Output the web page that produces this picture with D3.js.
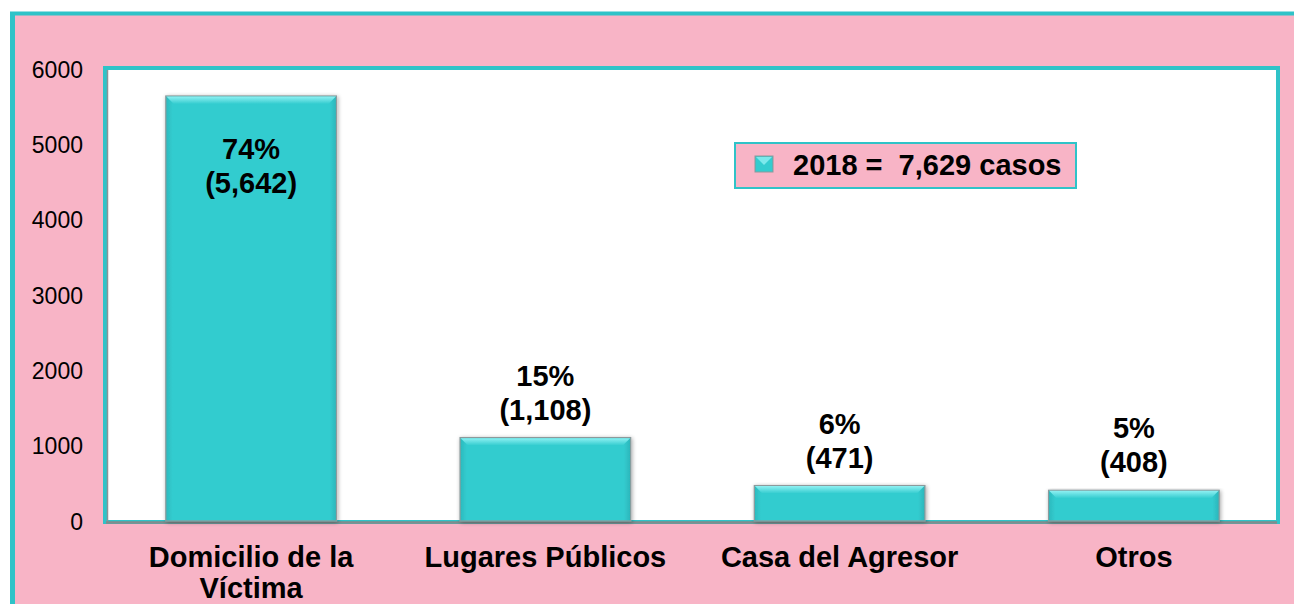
<!DOCTYPE html>
<html><head><meta charset="utf-8">
<script src="https://cdn.jsdelivr.net/npm/d3@7"></script>
<style>html,body{margin:0;padding:0;background:#fff;}svg{display:block;}</style>
</head><body>
<script>
const categories = [["Domicilio de la", "Víctima"], ["Lugares Públicos"], ["Casa del Agresor"], ["Otros"]];
const values = [5642, 1108, 471, 408];
const percents = ["74%", "15%", "6%", "5%"];
const valueLabels = ["(5,642)", "(1,108)", "(471)", "(408)"];
const yTicks = [0, 1000, 2000, 3000, 4000, 5000, 6000];
const legendLabel = "2018 =  7,629 casos";

const W = 1294, H = 604;
const pink = "#F8B4C6", teal = "#2FC3C8", barC = "#33CCCF";
const FF = "Liberation Sans, Arial, sans-serif";
const svg = d3.select("body").append("svg").attr("width", W).attr("height", H);

const defs = svg.append("defs");
const g1 = defs.append("linearGradient").attr("id","barg").attr("x1",0).attr("x2",1).attr("y1",0).attr("y2",0);
g1.append("stop").attr("offset","0").attr("stop-color","#2BB9BD");
g1.append("stop").attr("offset","0.04").attr("stop-color",barC);
g1.append("stop").attr("offset","0.96").attr("stop-color",barC);
g1.append("stop").attr("offset","1").attr("stop-color","#2BB5BA");
const g2 = defs.append("linearGradient").attr("id","topg").attr("x1",0).attr("x2",0).attr("y1",0).attr("y2",1);
g2.append("stop").attr("offset","0").attr("stop-color","#8EF0F2");
g2.append("stop").attr("offset","1").attr("stop-color",barC);
const f = defs.append("filter").attr("id","sh").attr("x","-10%").attr("y","-10%").attr("width","130%").attr("height","130%");
f.append("feGaussianBlur").attr("in","SourceAlpha").attr("stdDeviation",2);
f.append("feOffset").attr("dx",1).attr("dy",1).attr("result","b");
f.append("feComponentTransfer").append("feFuncA").attr("type","linear").attr("slope",0.35);
const fm = f.append("feMerge"); fm.append("feMergeNode"); fm.append("feMergeNode").attr("in","SourceGraphic");

// outer background
svg.append("rect").attr("x",10).attr("y",12).attr("width",W).attr("height",H).attr("fill",pink);
svg.append("line").attr("x1",10).attr("x2",W).attr("y1",13.5).attr("y2",13.5).attr("stroke",teal).attr("stroke-width",4);
svg.append("line").attr("x1",12.5).attr("x2",12.5).attr("y1",12).attr("y2",H).attr("stroke",teal).attr("stroke-width",5);

const y = d3.scaleLinear().domain([0, 6000]).range([521, 69]);
const x = d3.scaleBand().domain(d3.range(values.length)).range([104, 1281]).paddingInner(0.42).paddingOuter(0.21);

// plot area
svg.append("rect").attr("x",105).attr("y",y(6000)-1).attr("width",1173).attr("height",y(0)-y(6000)+2)
  .attr("fill","#fff").attr("stroke",teal).attr("stroke-width",4);
svg.append("line").attr("x1",107.5).attr("x2",107.5).attr("y1",y(6000)+1).attr("y2",y(0)+1).attr("stroke","#8a9596").attr("stroke-width",1.5);
svg.append("line").attr("x1",106).attr("x2",1277).attr("y1",y(0)+1.5).attr("y2",y(0)+1.5).attr("stroke","#808c8d").attr("stroke-width",2.5);

// y axis
const yAxis = d3.axisLeft(y).tickValues(yTicks).tickSize(0).tickPadding(0).tickFormat(d3.format("d"));
const ya = svg.append("g").attr("transform","translate(83,0)").call(yAxis);
ya.select(".domain").remove();
ya.selectAll("text").attr("font-family",FF).attr("font-size",23).attr("fill","#000").attr("dy","0.35em");

// bars
const bars = svg.append("g").selectAll("g").data(values).join("g").attr("filter","url(#sh)");
bars.append("rect").attr("x",(d,i)=>x(i)).attr("y",d=>y(d)).attr("width",x.bandwidth()).attr("height",d=>y(0)-y(d))
  .attr("fill","url(#barg)").attr("stroke","#8c9a9c").attr("stroke-width",1.2);
bars.append("path").attr("d",(d,i)=>{
  const x0=x(i), x1=x(i)+x.bandwidth(), t=y(d), b=8;
  return `M${x0+0.6},${t+0.6}L${x1-0.6},${t+0.6}L${x1-b},${t+b}L${x0+b},${t+b}Z`;
}).attr("fill","url(#topg)");

// value labels
const lab = svg.append("g").attr("font-family",FF).attr("font-weight","bold").attr("font-size",29).attr("text-anchor","middle").attr("fill","#000");
values.forEach((v,i)=>{
  const cx = x(i)+x.bandwidth()/2;
  const inside = i===0;
  const b2 = inside ? y(v)+97 : y(v)-18;
  lab.append("text").attr("x",cx).attr("y",b2-34).text(percents[i]);
  lab.append("text").attr("x",cx).attr("y",b2).text(valueLabels[i]);
});

// category labels
const cat = svg.append("g").attr("font-family",FF).attr("font-weight","bold").attr("font-size",29).attr("text-anchor","middle").attr("fill","#000");
categories.forEach((lines,i)=>{
  const cx = x(i)+x.bandwidth()/2;
  const t = cat.append("text").attr("x",cx).attr("y",567);
  lines.forEach((l,j)=>t.append("tspan").attr("x",cx).attr("dy",j===0?0:31).text(l));
});

// legend
const lg = svg.append("g");
lg.append("rect").attr("x",735).attr("y",143).attr("width",341).attr("height",45).attr("fill",pink).attr("stroke",teal).attr("stroke-width",2);
lg.append("rect").attr("x",755).attr("y",156).attr("width",18).attr("height",16).attr("fill","url(#barg)").attr("stroke","#8c9a9c").attr("stroke-width",1);
lg.append("path").attr("d","M756,157L772,157L764,165Z").attr("fill","#8EF0F2").attr("opacity",0.8);
lg.append("text").attr("x",793).attr("y",175).style("white-space","pre").attr("font-family",FF).attr("font-weight","bold").attr("font-size",29).attr("fill","#000").text(legendLabel);
</script>
</body></html>
